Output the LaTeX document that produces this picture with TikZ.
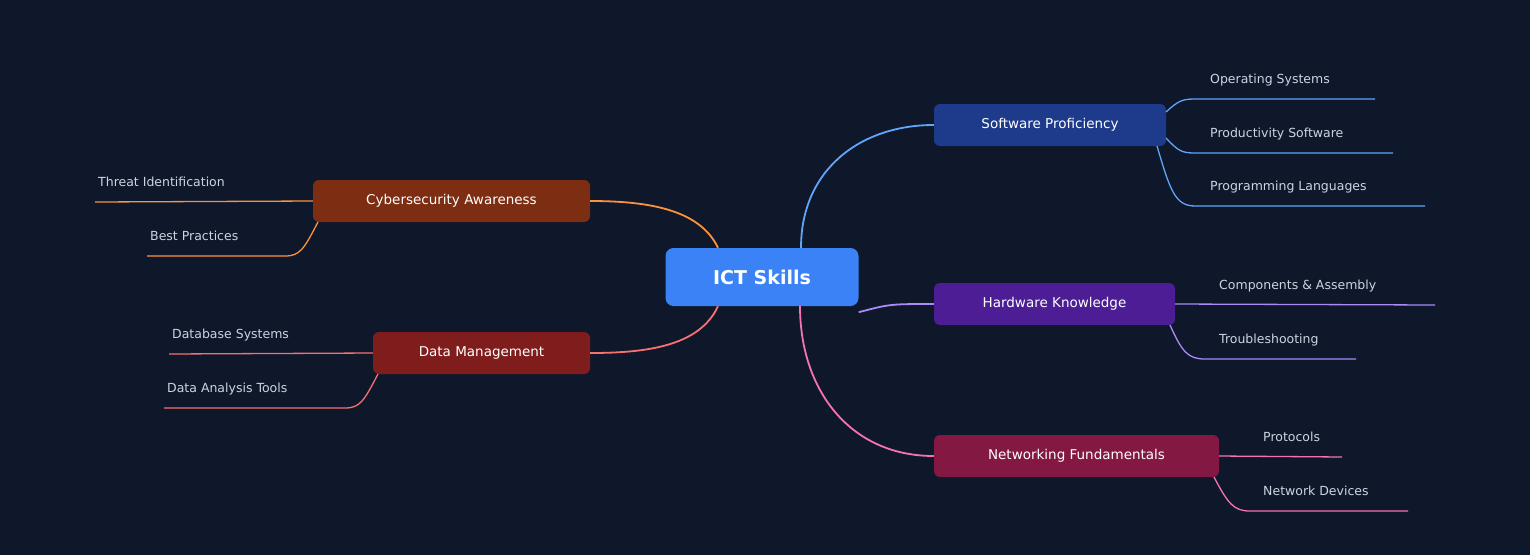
\documentclass[tikz,border=0pt]{standalone}
\usepackage{fontspec}
\setmainfont{DejaVu Sans}
\definecolor{bg}{HTML}{0F172A}
\definecolor{rootc}{HTML}{3B82F6}
\definecolor{swf}{HTML}{1E3A8A}\definecolor{swl}{HTML}{60A5FA}
\definecolor{hwf}{HTML}{4C1D95}\definecolor{hwl}{HTML}{A78BFA}
\definecolor{nwf}{HTML}{831843}\definecolor{nwl}{HTML}{F472B6}
\definecolor{cyf}{HTML}{7C2D12}\definecolor{cyl}{HTML}{FB923C}
\definecolor{daf}{HTML}{7F1D1D}\definecolor{dal}{HTML}{F87171}
\definecolor{leaft}{HTML}{CBD5E1}
\begin{document}
\begin{tikzpicture}[x=1pt,y=-1pt,
 branch/.style={rounded corners=6pt,minimum height=42pt,text=white,font=\fontsize{13.5}{16}\selectfont,inner sep=0pt},
 leaf/.style={anchor=base west,text=leaft,font=\fontsize{12.5}{15}\selectfont,inner sep=0pt},
 conn/.style={line width=1.8pt},
 lconn/.style={line width=1.3pt}]
\fill[bg] (0,0) rectangle (1530,555);
\useasboundingbox (0,0) rectangle (1530,555);
\node[fill=rootc,rounded corners=8pt,minimum width=193pt,minimum height=58pt,text=white,font=\bfseries\fontsize{19}{22}\selectfont,inner sep=0pt] (root) at (762,277) {ICT Skills};
\node[branch,fill=swf,minimum width=232pt] (sw) at (1050,125) {Software Proficiency};
\node[branch,fill=hwf,minimum width=241pt] (hw) at (1054.5,304) {Hardware Knowledge};
\node[branch,fill=nwf,minimum width=285pt] (nw) at (1076.5,456) {Networking Fundamentals};
\node[branch,fill=cyf,minimum width=277pt] (cy) at (451.5,201) {Cybersecurity Awareness};
\node[branch,fill=daf,minimum width=217pt] (da) at (481.5,353) {Data Management};
% main connectors
\draw[conn,swl] ([xshift=39pt]root.north) .. controls (801,170) and (860,125) .. (sw.west);
\draw[conn,hwl] ([yshift=-6pt]root.south east) .. controls (890,304) .. (hw.west);
\draw[conn,nwl] ([xshift=38pt]root.south) .. controls (800,390) and (850,456) .. (nw.west);
\draw[conn,cyl] ([xshift=-44pt]root.north) .. controls (700,210) and (650,201) .. (cy.east);
\draw[conn,dal] ([xshift=-44pt]root.south) .. controls (700,345) and (650,353) .. (da.east);
% software leaves
\node[leaf] (l1) at (1210,83) {Operating Systems};
\node[leaf] (l2) at (1210,137) {Productivity Software};
\node[leaf] (l3) at (1210,190) {Programming Languages};
\coordinate (u1) at (1375,99);\coordinate (u2) at (1393,153);\coordinate (u3) at (1425,206);
\draw[lconn,swl] (1166,112) .. controls (1178,101) and (1182,99) .. (1195,99) -- (u1);
\draw[lconn,swl] (1166,138) .. controls (1178,151) and (1182,153) .. (1195,153) -- (u2);
\draw[lconn,swl] (1157,146) .. controls (1170,190) and (1175,206) .. (1195,206) -- (u3);
% hardware leaves
\node[leaf] (l4) at (1219,289) {Components \& Assembly};
\node[leaf] (l5) at (1219,343) {Troubleshooting};
\coordinate (u4) at (1435,305);\coordinate (u5) at (1356,359);
\draw[lconn,hwl] (hw.east) -- (u4);
\draw[lconn,hwl] (1170,325) .. controls (1182,352) and (1188,359) .. (1205,359) -- (u5);
% networking leaves
\node[leaf] (l6) at (1263,441) {Protocols};
\node[leaf] (l7) at (1263,495) {Network Devices};
\coordinate (u6) at (1342,457);\coordinate (u7) at (1408,511);
\draw[lconn,nwl] (nw.east) -- (u6);
\draw[lconn,nwl] (1214,477) .. controls (1228,504) and (1234,511) .. (1250,511) -- (u7);
% cyber leaves
\node[leaf] (l8) at (98,186) {Threat Identification};
\node[leaf] (l9) at (150,240) {Best Practices};
\coordinate (u8) at (95,202);\coordinate (u9) at (147,256);
\draw[lconn,cyl] (cy.west) -- (u8);
\draw[lconn,cyl] (318,222) .. controls (304,249) and (300,256) .. (285,256) -- (u9);
% data leaves
\node[leaf] (l10) at (172,338) {Database Systems};
\node[leaf] (l11) at (167,392) {Data Analysis Tools};
\coordinate (u10) at (169,354);\coordinate (u11) at (164,408);
\draw[lconn,dal] (da.west) -- (u10);
\draw[lconn,dal] (378,374) .. controls (364,401) and (360,408) .. (345,408) -- (u11);
\end{tikzpicture}
\end{document}
